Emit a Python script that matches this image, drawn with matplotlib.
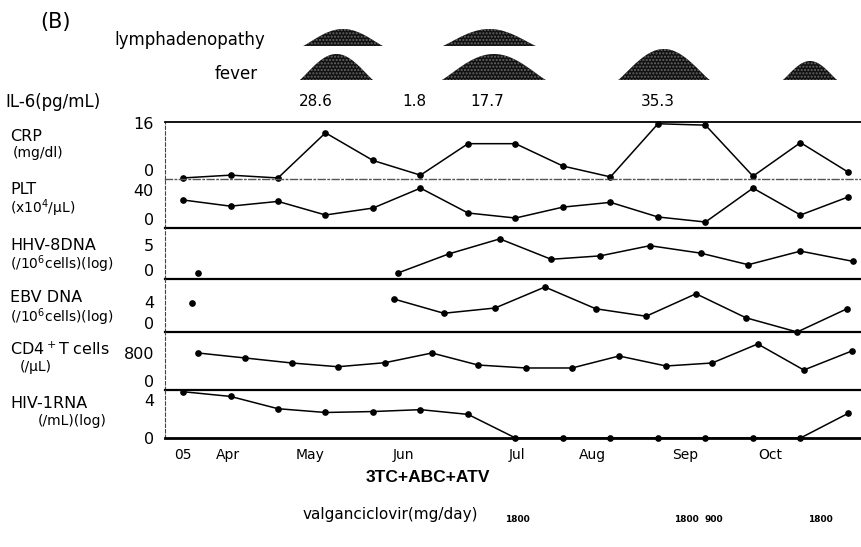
import numpy as np
import matplotlib
matplotlib.use('Agg')
import matplotlib.pyplot as plt
from matplotlib.transforms import blended_transform_factory

W, H = 862, 547

# visit index (about every 2 weeks), 0 = first visit in '05
visit = list(range(15))

crp = [0.3, 1.1, 0.3, 13.2, 5.3, 1.1, 10.1, 10.1, 3.7, 0.6, 15.8, 15.4, 0.8, 10.4, 2.0]
plt_count = [29.5, 23, 28, 13.7, 21, 42, 15.8, 10.5, 22, 27, 11.6, 6.3, 42, 13.7, 32.6]

hhv_x = [0.32, 4.53, 5.6, 6.67, 7.75, 8.78, 9.83, 10.9, 11.9, 13.0, 14.1]
hhv = [0.9, 0.9, 3.7, 5.9, 2.9, 3.4, 4.9, 3.8, 2.1, 4.1, 2.6]

ebv_x = [0.19, 4.44, 5.49, 6.57, 7.62, 8.69, 9.75, 10.8, 11.85, 12.93, 13.98]
ebv = [3.9, 4.4, 2.5, 3.2, 6.0, 3.1, 2.1, 5.1, 1.9, 0.0, 3.1]

cd4_x = [0.32, 1.31, 2.29, 3.26, 4.25, 5.24, 6.21, 7.22, 8.19, 9.18, 10.17, 11.14, 12.1, 13.07, 14.08]
cd4 = [800, 692, 584, 503, 590, 800, 540, 476, 476, 735, 519, 584, 995, 432, 843]

hiv = [4.9, 4.4, 3.1, 2.7, 2.8, 3.0, 2.5, 0, 0, 0, 0, 0, 0, 0, 2.6]

month_pos = [0, 0.95, 2.67, 4.65, 7.03, 8.63, 10.57, 12.36]
month_labels = ['05', 'Apr', 'May', 'Jun', 'Jul', 'Aug', 'Sep', 'Oct']

il6_pos = [2.8, 4.88, 6.4, 10.0]
il6_vals = ['28.6', '1.8', '17.7', '35.3']

# symptom episodes: start, end (visit index), height in px
lymph_start = [2.53, 5.47]
lymph_end = [4.21, 7.43]
lymph_h = [17, 17]
fever_start = [2.46, 5.45, 9.16, 12.63]
fever_end = [4.0, 7.64, 11.09, 13.77]
fever_h = [26, 26, 31, 19]

dose_pos = [7.05, 10.59, 11.18, 13.41]
dose_vals = ['1800', '1800', '900', '1800']


def fx(px):
    return px / W


def fy(py):
    return 1 - py / H


fig = plt.figure(figsize=(W / 100, H / 100), dpi=100)
fig.patch.set_facecolor('white')

x_left, x_right = 165, 862
xmin = -0.379
xmax = 14.295

# panel pixel rows: (top, bottom, ymax, top tick, top label, name, unit, unit x)
panels = [
    (122, 179, 16.3, 16, '16', 'CRP', '(mg/dl)', 13),
    (179, 228, 51.6, 40, '40', 'PLT', '(x10$^4$/μL)', 10),
    (228, 279, 7.5, 5, '5', 'HHV-8DNA', '(/10$^6$cells)(log)', 10),
    (279, 332, 7.07, 4, '4', 'EBV DNA', '(/10$^6$cells)(log)', 10),
    (332, 390, 1254, 800, '800', 'CD4$^+$T cells', '(/μL)', 20),
    (390, 438, 5.08, 4, '4', 'HIV-1RNA', '(/mL)(log)', 38),
]
name_y = [137, 189, 245, 298, 349, 404]
unit_y = [153, 208, 264, 317, 367, 421]

axes = []
for i, (top, bot, ymax, tick, ticklab, name, unit, ux) in enumerate(panels):
    ax = fig.add_axes([fx(x_left), fy(bot), fx(x_right) - fx(x_left), (bot - top) / H])
    ax.set_xlim(xmin, xmax)
    ax.set_ylim(0, ymax)
    ax.set_facecolor('none')
    ax.spines['right'].set_visible(False)
    ax.spines['top'].set_visible(i == 0)
    ax.spines['top'].set_linewidth(1.3)
    ax.spines['left'].set_linestyle((0, (3, 2)))
    ax.spines['left'].set_linewidth(0.8)
    ax.spines['left'].set_color('#444444')
    ax.spines['bottom'].set_linewidth(1.6 if i > 0 else 1.0)
    if i == 0:
        ax.spines['bottom'].set_linestyle((0, (5, 2, 1, 2)))
        ax.spines['bottom'].set_color('#555555')
    ax.set_yticks([0, tick])
    ax.set_yticklabels(['0', ticklab])
    ax.tick_params(axis='y', length=0, pad=8, labelsize=11.5)
    labs = ax.get_yticklabels()
    if i < len(panels) - 1:
        labs[0].set_va('bottom')
    ax.tick_params(axis='x', length=0)
    if i < len(panels) - 1:
        ax.set_xticks([])
    fig.text(fx(10), fy(name_y[i]), name, fontsize=11.5, va='center', ha='left')
    fig.text(fx(ux), fy(unit_y[i]), unit, fontsize=10, va='center', ha='left')
    axes.append(ax)

ax_crp, ax_plt, ax_hhv, ax_ebv, ax_cd4, ax_hiv = axes

line_kw = dict(color='black', lw=1.1, marker='o', ms=3.8, clip_on=False)
ax_crp.plot(visit, crp, **line_kw)
ax_plt.plot(visit, plt_count, **line_kw)
ax_hhv.plot(hhv_x[1:], hhv[1:], **line_kw)
ax_hhv.plot(hhv_x[:1], hhv[:1], 'o', color='black', ms=3.8)
ax_ebv.plot(ebv_x[1:], ebv[1:], **line_kw)
ax_ebv.plot(ebv_x[:1], ebv[:1], 'o', color='black', ms=3.8)
ax_cd4.plot(cd4_x, cd4, **line_kw)
ax_hiv.plot(visit, hiv, **line_kw)

ax_hiv.spines['bottom'].set_linewidth(2)
ax_hiv.set_xticks(month_pos)
ax_hiv.set_xticklabels(month_labels, fontsize=10)
ax_hiv.tick_params(axis='x', length=0, pad=7)

# symptom humps on top, y in pixel rows
ax_top = fig.add_axes([fx(x_left), fy(90), fx(x_right) - fx(x_left), 75 / H])
ax_top.set_xlim(xmin, xmax)
ax_top.set_ylim(90, 15)
ax_top.axis('off')

t = np.linspace(-1, 1, 100)
bell = (0.5 + 0.5 * np.cos(np.pi * t)) ** 0.55


def draw_hump(x0, x1, h, base):
    xs = x0 + (t + 1) / 2 * (x1 - x0)
    ax_top.fill_between(xs, base, base - h * bell, facecolor='#111111',
                        edgecolor='#666666', hatch='.....', linewidth=0)


for x0, x1, h in zip(lymph_start, lymph_end, lymph_h):
    draw_hump(x0, x1, h, 46)
for x0, x1, h in zip(fever_start, fever_end, fever_h):
    draw_hump(x0, x1, h, 80)

fig.text(fx(40), fy(22), '(B)', fontsize=15, va='center', ha='left')
fig.text(fx(265), fy(40), 'lymphadenopathy', fontsize=12, va='center', ha='right')
fig.text(fx(258), fy(74), 'fever', fontsize=12, va='center', ha='right')
fig.text(fx(5), fy(102), 'IL-6(pg/mL)', fontsize=12, va='center', ha='left')

top_tr = blended_transform_factory(ax_crp.transData, fig.transFigure)
for xp, v in zip(il6_pos, il6_vals):
    fig.text(xp, fy(102), v, fontsize=11, va='center', ha='center', transform=top_tr)

fig.text(fx(428), fy(477), '3TC+ABC+ATV', fontsize=12.5, fontweight='bold',
         family='Liberation Sans', va='center', ha='center')
fig.text(fx(303), fy(515), 'valganciclovir(mg/day)', fontsize=11, va='center', ha='left')
for xp, v in zip(dose_pos, dose_vals):
    fig.text(xp, fy(520), v, fontsize=6.5, fontweight='bold', va='center', ha='center',
             transform=top_tr)

fig.savefig('out.png', dpi=100)
